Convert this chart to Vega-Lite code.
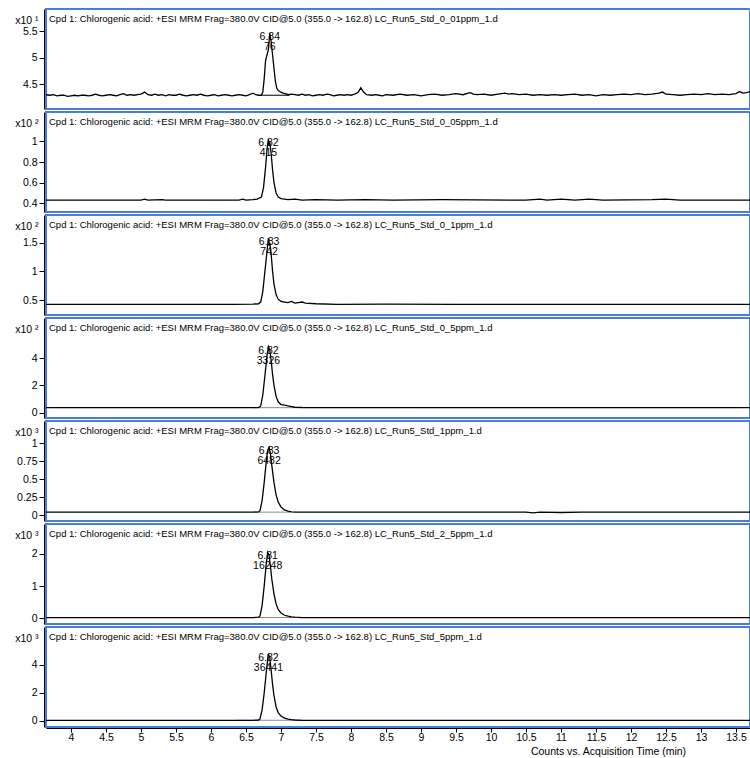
{
"$schema": "https://vega.github.io/schema/vega-lite/v6.json",
"padding": {"left": 13, "top": 8, "right": 0, "bottom": 0},
"spacing": 3,
"bounds": "flush",
"datasets": {
"p1": [
{"t":3.64,"v":4.30},{"t":3.70,"v":4.29},{"t":3.75,"v":4.30},{"t":3.80,"v":4.28},{"t":3.85,"v":4.29},{"t":3.90,"v":4.29},{"t":3.95,"v":4.27},{"t":4.00,"v":4.28},{"t":4.05,"v":4.29},{"t":4.10,"v":4.28},{"t":4.15,"v":4.29},{"t":4.20,"v":4.29},{"t":4.25,"v":4.28},{"t":4.30,"v":4.29},{"t":4.35,"v":4.31},{"t":4.40,"v":4.29},{"t":4.45,"v":4.28},{"t":4.50,"v":4.29},{"t":4.55,"v":4.30},{"t":4.60,"v":4.29},{"t":4.65,"v":4.28},{"t":4.70,"v":4.30},{"t":4.75,"v":4.32},{"t":4.80,"v":4.29},{"t":4.85,"v":4.30},{"t":4.90,"v":4.29},{"t":4.95,"v":4.30},{"t":5.00,"v":4.31},{"t":5.05,"v":4.35},{"t":5.10,"v":4.30},{"t":5.15,"v":4.29},{"t":5.20,"v":4.31},{"t":5.25,"v":4.29},{"t":5.30,"v":4.30},{"t":5.35,"v":4.28},{"t":5.40,"v":4.30},{"t":5.45,"v":4.29},{"t":5.50,"v":4.29},{"t":5.55,"v":4.31},{"t":5.60,"v":4.29},{"t":5.65,"v":4.28},{"t":5.70,"v":4.29},{"t":5.75,"v":4.30},{"t":5.80,"v":4.29},{"t":5.85,"v":4.31},{"t":5.90,"v":4.29},{"t":5.95,"v":4.28},{"t":6.00,"v":4.29},{"t":6.05,"v":4.30},{"t":6.10,"v":4.28},{"t":6.15,"v":4.29},{"t":6.20,"v":4.30},{"t":6.25,"v":4.29},{"t":6.30,"v":4.28},{"t":6.35,"v":4.29},{"t":6.40,"v":4.30},{"t":6.45,"v":4.29},{"t":6.50,"v":4.28},{"t":6.55,"v":4.30},{"t":6.60,"v":4.33},{"t":6.64,"v":4.30},{"t":6.68,"v":4.29},{"t":6.72,"v":4.29},{"t":6.74,"v":4.35},{"t":6.76,"v":4.60},{"t":6.78,"v":4.95},{"t":6.80,"v":5.05},{"t":6.82,"v":5.15},{"t":6.84,"v":5.46},{"t":6.86,"v":5.30},{"t":6.88,"v":5.05},{"t":6.90,"v":4.80},{"t":6.92,"v":4.55},{"t":6.94,"v":4.42},{"t":6.96,"v":4.38},{"t":6.98,"v":4.36},{"t":7.00,"v":4.35},{"t":7.03,"v":4.33},{"t":7.06,"v":4.32},{"t":7.10,"v":4.30},{"t":7.15,"v":4.31},{"t":7.20,"v":4.30},{"t":7.25,"v":4.29},{"t":7.30,"v":4.31},{"t":7.35,"v":4.29},{"t":7.40,"v":4.30},{"t":7.45,"v":4.28},{"t":7.50,"v":4.29},{"t":7.55,"v":4.30},{"t":7.60,"v":4.29},{"t":7.65,"v":4.31},{"t":7.70,"v":4.30},{"t":7.75,"v":4.28},{"t":7.80,"v":4.29},{"t":7.85,"v":4.30},{"t":7.90,"v":4.29},{"t":7.95,"v":4.30},{"t":8.00,"v":4.29},{"t":8.05,"v":4.31},{"t":8.10,"v":4.34},{"t":8.14,"v":4.43},{"t":8.18,"v":4.35},{"t":8.22,"v":4.30},{"t":8.30,"v":4.29},{"t":8.35,"v":4.30},{"t":8.40,"v":4.29},{"t":8.45,"v":4.28},{"t":8.50,"v":4.30},{"t":8.60,"v":4.29},{"t":8.70,"v":4.31},{"t":8.80,"v":4.29},{"t":8.90,"v":4.30},{"t":9.00,"v":4.28},{"t":9.10,"v":4.30},{"t":9.20,"v":4.31},{"t":9.30,"v":4.29},{"t":9.40,"v":4.30},{"t":9.50,"v":4.32},{"t":9.60,"v":4.30},{"t":9.70,"v":4.34},{"t":9.75,"v":4.31},{"t":9.80,"v":4.30},{"t":9.90,"v":4.31},{"t":10.00,"v":4.29},{"t":10.10,"v":4.31},{"t":10.20,"v":4.33},{"t":10.25,"v":4.31},{"t":10.30,"v":4.32},{"t":10.40,"v":4.30},{"t":10.50,"v":4.31},{"t":10.60,"v":4.29},{"t":10.70,"v":4.30},{"t":10.80,"v":4.29},{"t":10.90,"v":4.30},{"t":11.00,"v":4.29},{"t":11.10,"v":4.30},{"t":11.20,"v":4.31},{"t":11.30,"v":4.29},{"t":11.40,"v":4.30},{"t":11.50,"v":4.28},{"t":11.60,"v":4.30},{"t":11.70,"v":4.29},{"t":11.80,"v":4.30},{"t":11.90,"v":4.31},{"t":12.00,"v":4.30},{"t":12.10,"v":4.32},{"t":12.20,"v":4.30},{"t":12.30,"v":4.31},{"t":12.40,"v":4.33},{"t":12.45,"v":4.35},{"t":12.50,"v":4.31},{"t":12.60,"v":4.30},{"t":12.70,"v":4.29},{"t":12.80,"v":4.30},{"t":12.90,"v":4.31},{"t":13.00,"v":4.30},{"t":13.10,"v":4.32},{"t":13.20,"v":4.30},{"t":13.30,"v":4.31},{"t":13.40,"v":4.30},{"t":13.50,"v":4.32},{"t":13.55,"v":4.36},{"t":13.60,"v":4.33},{"t":13.65,"v":4.34},{"t":13.70,"v":4.36}
],
"p2": [
{"t":3.64,"v":0.43},{"t":5.0,"v":0.43},{"t":5.05,"v":0.44},{"t":5.1,"v":0.43},{"t":5.3,"v":0.435},{"t":5.35,"v":0.43},{"t":6.4,"v":0.43},{"t":6.45,"v":0.44},{"t":6.5,"v":0.43},{"t":6.6,"v":0.435},{"t":6.66,"v":0.44},{"t":6.72,"v":0.46},{"t":6.75,"v":0.55},{"t":6.78,"v":0.75},{"t":6.80,"v":0.92},{"t":6.82,"v":1.02},{"t":6.83,"v":0.96},{"t":6.84,"v":0.99},{"t":6.86,"v":0.88},{"t":6.88,"v":0.72},{"t":6.90,"v":0.60},{"t":6.93,"v":0.50},{"t":6.96,"v":0.46},{"t":7.0,"v":0.445},{"t":7.05,"v":0.44},{"t":7.1,"v":0.435},{"t":7.2,"v":0.44},{"t":7.3,"v":0.43},{"t":7.5,"v":0.435},{"t":7.8,"v":0.43},{"t":8.2,"v":0.435},{"t":8.6,"v":0.43},{"t":9.3,"v":0.435},{"t":10.5,"v":0.43},{"t":10.7,"v":0.44},{"t":10.8,"v":0.43},{"t":11.0,"v":0.44},{"t":11.2,"v":0.43},{"t":11.4,"v":0.44},{"t":11.6,"v":0.43},{"t":12.3,"v":0.435},{"t":12.5,"v":0.44},{"t":12.7,"v":0.43},{"t":13.7,"v":0.43}
],
"p3": [
{"t":3.64,"v":0.43},{"t":6.3,"v":0.43},{"t":6.6,"v":0.435},{"t":6.68,"v":0.44},{"t":6.71,"v":0.47},{"t":6.74,"v":0.65},{"t":6.77,"v":1.0},{"t":6.80,"v":1.35},{"t":6.82,"v":1.58},{"t":6.83,"v":1.45},{"t":6.84,"v":1.5},{"t":6.86,"v":1.3},{"t":6.88,"v":1.0},{"t":6.90,"v":0.78},{"t":6.93,"v":0.6},{"t":6.96,"v":0.52},{"t":7.0,"v":0.48},{"t":7.05,"v":0.47},{"t":7.1,"v":0.46},{"t":7.15,"v":0.48},{"t":7.2,"v":0.45},{"t":7.3,"v":0.47},{"t":7.35,"v":0.45},{"t":7.5,"v":0.44},{"t":7.8,"v":0.43},{"t":8.5,"v":0.435},{"t":9.5,"v":0.43},{"t":13.7,"v":0.43}
],
"p4": [
{"t":3.64,"v":0.37},{"t":6.6,"v":0.37},{"t":6.68,"v":0.38},{"t":6.71,"v":0.5},{"t":6.74,"v":1.3},{"t":6.77,"v":2.7},{"t":6.80,"v":4.2},{"t":6.82,"v":4.85},{"t":6.84,"v":4.6},{"t":6.86,"v":3.8},{"t":6.88,"v":2.8},{"t":6.90,"v":2.0},{"t":6.93,"v":1.2},{"t":6.96,"v":0.8},{"t":7.0,"v":0.6},{"t":7.05,"v":0.55},{"t":7.1,"v":0.5},{"t":7.15,"v":0.45},{"t":7.2,"v":0.4},{"t":7.3,"v":0.38},{"t":13.7,"v":0.37}
],
"p5": [
{"t":3.64,"v":0.04},{"t":6.6,"v":0.04},{"t":6.68,"v":0.045},{"t":6.70,"v":0.06},{"t":6.73,"v":0.2},{"t":6.76,"v":0.45},{"t":6.79,"v":0.75},{"t":6.81,"v":0.9},{"t":6.83,"v":0.94},{"t":6.85,"v":0.85},{"t":6.87,"v":0.68},{"t":6.90,"v":0.45},{"t":6.93,"v":0.28},{"t":6.96,"v":0.18},{"t":7.0,"v":0.11},{"t":7.05,"v":0.07},{"t":7.1,"v":0.055},{"t":7.15,"v":0.045},{"t":7.2,"v":0.04},{"t":10.5,"v":0.04},{"t":10.6,"v":0.03},{"t":10.7,"v":0.04},{"t":11.0,"v":0.035},{"t":11.3,"v":0.04},{"t":13.7,"v":0.04}
],
"p6": [
{"t":3.64,"v":0.03},{"t":6.6,"v":0.03},{"t":6.68,"v":0.04},{"t":6.70,"v":0.08},{"t":6.73,"v":0.4},{"t":6.76,"v":1.0},{"t":6.79,"v":1.7},{"t":6.81,"v":2.04},{"t":6.83,"v":1.95},{"t":6.85,"v":1.6},{"t":6.87,"v":1.2},{"t":6.90,"v":0.75},{"t":6.93,"v":0.45},{"t":6.96,"v":0.28},{"t":7.0,"v":0.17},{"t":7.05,"v":0.1},{"t":7.1,"v":0.07},{"t":7.15,"v":0.05},{"t":7.2,"v":0.04},{"t":7.3,"v":0.03},{"t":13.7,"v":0.03}
],
"p7": [
{"t":3.64,"v":0.05},{"t":6.6,"v":0.05},{"t":6.68,"v":0.07},{"t":6.70,"v":0.15},{"t":6.73,"v":0.8},{"t":6.76,"v":2.0},{"t":6.79,"v":3.5},{"t":6.81,"v":4.4},{"t":6.82,"v":4.79},{"t":6.84,"v":4.5},{"t":6.86,"v":3.6},{"t":6.88,"v":2.6},{"t":6.90,"v":1.8},{"t":6.93,"v":1.0},{"t":6.96,"v":0.6},{"t":7.0,"v":0.35},{"t":7.05,"v":0.2},{"t":7.1,"v":0.13},{"t":7.15,"v":0.09},{"t":7.2,"v":0.07},{"t":7.3,"v":0.05},{"t":13.7,"v":0.05}
],
"pk": [
{"p":1,"t":6.84,"v":5.46,"rt":"6.84","ar":"76","b0":6.73,"b1":7.12,"base":4.29},
{"p":2,"t":6.82,"v":1.02,"rt":"6.82","ar":"415","b0":6.66,"b1":7.1,"base":0.43},
{"p":3,"t":6.83,"v":1.58,"rt":"6.83","ar":"742","b0":6.68,"b1":7.2,"base":0.43},
{"p":4,"t":6.82,"v":4.85,"rt":"6.82","ar":"3326","b0":6.57,"b1":7.24,"base":0.37},
{"p":5,"t":6.83,"v":0.94,"rt":"6.83","ar":"6482","b0":6.61,"b1":7.14,"base":0.04},
{"p":6,"t":6.81,"v":2.04,"rt":"6.81","ar":"16248","b0":6.6,"b1":7.2,"base":0.03},
{"p":7,"t":6.82,"v":4.79,"rt":"6.82","ar":"36441","b0":6.36,"b1":7.31,"base":0.05}
]
},
"vconcat": [
{"width":704,"height":100,"title":"Cpd 1: Chlorogenic acid: +ESI MRM Frag=380.0V CID@5.0 (355.0 -> 162.8) LC_Run5_Std_0_01ppm_1.d",
 "layer":[
  {"data":{"name":"pk"},"transform":[{"filter":"datum.p==1"}],"mark":{"type":"rule","color":"black","strokeWidth":1},"encoding":{"x":{"field":"b0","type":"quantitative","scale":{"domain":[3.643,13.7],"nice":false,"zero":false},"axis":null},"x2":{"field":"b1"},"y":{"field":"base","type":"quantitative","scale":{"domain":[4.03,5.92],"nice":false,"zero":false},"axis":{"title":"x10 ¹","values":[4.5,5,5.5],"format":"~g"}}}},
  {"data":{"name":"pk"},"transform":[{"filter":"datum.p==1"}],"mark":{"type":"text","dy":4},"encoding":{"x":{"field":"t","type":"quantitative","scale":{"domain":[3.643,13.7],"nice":false,"zero":false},"axis":null},"y":{"field":"v","type":"quantitative","scale":{"domain":[4.03,5.92],"nice":false,"zero":false},"axis":{"title":"x10 ¹","values":[4.5,5,5.5],"format":"~g"}},"text":{"field":"rt"}}},
  {"data":{"name":"pk"},"transform":[{"filter":"datum.p==1"}],"mark":{"type":"text","dy":14},"encoding":{"x":{"field":"t","type":"quantitative","scale":{"domain":[3.643,13.7],"nice":false,"zero":false},"axis":null},"y":{"field":"v","type":"quantitative","scale":{"domain":[4.03,5.92],"nice":false,"zero":false},"axis":{"title":"x10 ¹","values":[4.5,5,5.5],"format":"~g"}},"text":{"field":"ar"}}},
  {"data":{"name":"p1"},"mark":{"type":"line","color":"black","strokeWidth":1.3,"clip":true},"encoding":{"x":{"field":"t","type":"quantitative","scale":{"domain":[3.643,13.7],"nice":false,"zero":false},"axis":null},"y":{"field":"v","type":"quantitative","scale":{"domain":[4.03,5.92],"nice":false,"zero":false},"axis":{"title":"x10 ¹","values":[4.5,5,5.5],"format":"~g"}}}}
 ]},
{"width":704,"height":100,"title":"Cpd 1: Chlorogenic acid: +ESI MRM Frag=380.0V CID@5.0 (355.0 -> 162.8) LC_Run5_Std_0_05ppm_1.d",
 "layer":[
  {"data":{"name":"pk"},"transform":[{"filter":"datum.p==2"}],"mark":{"type":"text","dy":4},"encoding":{"x":{"field":"t","type":"quantitative","scale":{"domain":[3.643,13.7],"nice":false,"zero":false},"axis":null},"y":{"field":"v","type":"quantitative","scale":{"domain":[0.315,1.285],"nice":false,"zero":false},"axis":{"title":"x10 ²","values":[0.4,0.6,0.8,1],"format":"~g"}},"text":{"field":"rt"}}},
  {"data":{"name":"pk"},"transform":[{"filter":"datum.p==2"}],"mark":{"type":"text","dy":14},"encoding":{"x":{"field":"t","type":"quantitative","scale":{"domain":[3.643,13.7],"nice":false,"zero":false},"axis":null},"y":{"field":"v","type":"quantitative","scale":{"domain":[0.315,1.285],"nice":false,"zero":false},"axis":{"title":"x10 ²","values":[0.4,0.6,0.8,1],"format":"~g"}},"text":{"field":"ar"}}},
  {"data":{"name":"p2"},"mark":{"type":"line","color":"black","strokeWidth":1.3,"clip":true},"encoding":{"x":{"field":"t","type":"quantitative","scale":{"domain":[3.643,13.7],"nice":false,"zero":false},"axis":null},"y":{"field":"v","type":"quantitative","scale":{"domain":[0.315,1.285],"nice":false,"zero":false},"axis":{"title":"x10 ²","values":[0.4,0.6,0.8,1],"format":"~g"}}}}
 ]},
{"width":704,"height":100,"title":"Cpd 1: Chlorogenic acid: +ESI MRM Frag=380.0V CID@5.0 (355.0 -> 162.8) LC_Run5_Std_0_1ppm_1.d",
 "layer":[
  {"data":{"name":"pk"},"transform":[{"filter":"datum.p==3"}],"mark":{"type":"text","dy":4},"encoding":{"x":{"field":"t","type":"quantitative","scale":{"domain":[3.643,13.7],"nice":false,"zero":false},"axis":null},"y":{"field":"v","type":"quantitative","scale":{"domain":[0.245,1.98],"nice":false,"zero":false},"axis":{"title":"x10 ²","values":[0.5,1,1.5],"format":"~g"}},"text":{"field":"rt"}}},
  {"data":{"name":"pk"},"transform":[{"filter":"datum.p==3"}],"mark":{"type":"text","dy":14},"encoding":{"x":{"field":"t","type":"quantitative","scale":{"domain":[3.643,13.7],"nice":false,"zero":false},"axis":null},"y":{"field":"v","type":"quantitative","scale":{"domain":[0.245,1.98],"nice":false,"zero":false},"axis":{"title":"x10 ²","values":[0.5,1,1.5],"format":"~g"}},"text":{"field":"ar"}}},
  {"data":{"name":"p3"},"mark":{"type":"line","color":"black","strokeWidth":1.3,"clip":true},"encoding":{"x":{"field":"t","type":"quantitative","scale":{"domain":[3.643,13.7],"nice":false,"zero":false},"axis":null},"y":{"field":"v","type":"quantitative","scale":{"domain":[0.245,1.98],"nice":false,"zero":false},"axis":{"title":"x10 ²","values":[0.5,1,1.5],"format":"~g"}}}}
 ]},
{"width":704,"height":100,"title":"Cpd 1: Chlorogenic acid: +ESI MRM Frag=380.0V CID@5.0 (355.0 -> 162.8) LC_Run5_Std_0_5ppm_1.d",
 "layer":[
  {"data":{"name":"pk"},"transform":[{"filter":"datum.p==4"}],"mark":{"type":"rule","color":"#8a8a8a","strokeWidth":1},"encoding":{"x":{"field":"b0","type":"quantitative","scale":{"domain":[3.643,13.7],"nice":false,"zero":false},"axis":null},"x2":{"field":"b1"},"y":{"field":"base","type":"quantitative","scale":{"domain":[-0.39,6.96],"nice":false,"zero":false},"axis":{"title":"x10 ²","values":[0,2,4],"format":"~g"}}}},
  {"data":{"name":"pk"},"transform":[{"filter":"datum.p==4"}],"mark":{"type":"text","dy":4},"encoding":{"x":{"field":"t","type":"quantitative","scale":{"domain":[3.643,13.7],"nice":false,"zero":false},"axis":null},"y":{"field":"v","type":"quantitative","scale":{"domain":[-0.39,6.96],"nice":false,"zero":false},"axis":{"title":"x10 ²","values":[0,2,4],"format":"~g"}},"text":{"field":"rt"}}},
  {"data":{"name":"pk"},"transform":[{"filter":"datum.p==4"}],"mark":{"type":"text","dy":14},"encoding":{"x":{"field":"t","type":"quantitative","scale":{"domain":[3.643,13.7],"nice":false,"zero":false},"axis":null},"y":{"field":"v","type":"quantitative","scale":{"domain":[-0.39,6.96],"nice":false,"zero":false},"axis":{"title":"x10 ²","values":[0,2,4],"format":"~g"}},"text":{"field":"ar"}}},
  {"data":{"name":"p4"},"mark":{"type":"line","color":"black","strokeWidth":1.3,"clip":true},"encoding":{"x":{"field":"t","type":"quantitative","scale":{"domain":[3.643,13.7],"nice":false,"zero":false},"axis":null},"y":{"field":"v","type":"quantitative","scale":{"domain":[-0.39,6.96],"nice":false,"zero":false},"axis":{"title":"x10 ²","values":[0,2,4],"format":"~g"}}}}
 ]},
{"width":704,"height":100,"title":"Cpd 1: Chlorogenic acid: +ESI MRM Frag=380.0V CID@5.0 (355.0 -> 162.8) LC_Run5_Std_1ppm_1.d",
 "layer":[
  {"data":{"name":"pk"},"transform":[{"filter":"datum.p==5"}],"mark":{"type":"rule","color":"#8a8a8a","strokeWidth":1},"encoding":{"x":{"field":"b0","type":"quantitative","scale":{"domain":[3.643,13.7],"nice":false,"zero":false},"axis":null},"x2":{"field":"b1"},"y":{"field":"base","type":"quantitative","scale":{"domain":[-0.083,1.306],"nice":false,"zero":false},"axis":{"title":"x10 ³","values":[0,0.25,0.5,0.75,1],"format":"~g"}}}},
  {"data":{"name":"pk"},"transform":[{"filter":"datum.p==5"}],"mark":{"type":"text","dy":4},"encoding":{"x":{"field":"t","type":"quantitative","scale":{"domain":[3.643,13.7],"nice":false,"zero":false},"axis":null},"y":{"field":"v","type":"quantitative","scale":{"domain":[-0.083,1.306],"nice":false,"zero":false},"axis":{"title":"x10 ³","values":[0,0.25,0.5,0.75,1],"format":"~g"}},"text":{"field":"rt"}}},
  {"data":{"name":"pk"},"transform":[{"filter":"datum.p==5"}],"mark":{"type":"text","dy":14},"encoding":{"x":{"field":"t","type":"quantitative","scale":{"domain":[3.643,13.7],"nice":false,"zero":false},"axis":null},"y":{"field":"v","type":"quantitative","scale":{"domain":[-0.083,1.306],"nice":false,"zero":false},"axis":{"title":"x10 ³","values":[0,0.25,0.5,0.75,1],"format":"~g"}},"text":{"field":"ar"}}},
  {"data":{"name":"p5"},"mark":{"type":"line","color":"black","strokeWidth":1.3,"clip":true},"encoding":{"x":{"field":"t","type":"quantitative","scale":{"domain":[3.643,13.7],"nice":false,"zero":false},"axis":null},"y":{"field":"v","type":"quantitative","scale":{"domain":[-0.083,1.306],"nice":false,"zero":false},"axis":{"title":"x10 ³","values":[0,0.25,0.5,0.75,1],"format":"~g"}}}}
 ]},
{"width":704,"height":100,"title":"Cpd 1: Chlorogenic acid: +ESI MRM Frag=380.0V CID@5.0 (355.0 -> 162.8) LC_Run5_Std_2_5ppm_1.d",
 "layer":[
  {"data":{"name":"pk"},"transform":[{"filter":"datum.p==6"}],"mark":{"type":"rule","color":"#8a8a8a","strokeWidth":1},"encoding":{"x":{"field":"b0","type":"quantitative","scale":{"domain":[3.643,13.7],"nice":false,"zero":false},"axis":null},"x2":{"field":"b1"},"y":{"field":"base","type":"quantitative","scale":{"domain":[-0.17,2.92],"nice":false,"zero":false},"axis":{"title":"x10 ³","values":[0,1,2],"format":"~g"}}}},
  {"data":{"name":"pk"},"transform":[{"filter":"datum.p==6"}],"mark":{"type":"text","dy":4},"encoding":{"x":{"field":"t","type":"quantitative","scale":{"domain":[3.643,13.7],"nice":false,"zero":false},"axis":null},"y":{"field":"v","type":"quantitative","scale":{"domain":[-0.17,2.92],"nice":false,"zero":false},"axis":{"title":"x10 ³","values":[0,1,2],"format":"~g"}},"text":{"field":"rt"}}},
  {"data":{"name":"pk"},"transform":[{"filter":"datum.p==6"}],"mark":{"type":"text","dy":14},"encoding":{"x":{"field":"t","type":"quantitative","scale":{"domain":[3.643,13.7],"nice":false,"zero":false},"axis":null},"y":{"field":"v","type":"quantitative","scale":{"domain":[-0.17,2.92],"nice":false,"zero":false},"axis":{"title":"x10 ³","values":[0,1,2],"format":"~g"}},"text":{"field":"ar"}}},
  {"data":{"name":"p6"},"mark":{"type":"line","color":"black","strokeWidth":1.3,"clip":true},"encoding":{"x":{"field":"t","type":"quantitative","scale":{"domain":[3.643,13.7],"nice":false,"zero":false},"axis":null},"y":{"field":"v","type":"quantitative","scale":{"domain":[-0.17,2.92],"nice":false,"zero":false},"axis":{"title":"x10 ³","values":[0,1,2],"format":"~g"}}}}
 ]},
{"width":704,"height":100,"title":"Cpd 1: Chlorogenic acid: +ESI MRM Frag=380.0V CID@5.0 (355.0 -> 162.8) LC_Run5_Std_5ppm_1.d",
 "layer":[
  {"data":{"name":"pk"},"transform":[{"filter":"datum.p==7"}],"mark":{"type":"rule","color":"#8a8a8a","strokeWidth":1},"encoding":{"x":{"field":"b0","type":"quantitative","scale":{"domain":[3.643,13.7],"nice":false,"zero":false},"axis":{"title":"Counts vs. Acquisition Time (min)","values":[4,4.5,5,5.5,6,6.5,7,7.5,8,8.5,9,9.5,10,10.5,11,11.5,12,12.5,13,13.5],"format":"~g","offset":1,"tickSize":4,"labelPadding":0,"labelFlush":false,"labelOverlap":false,"titleX":562,"titleY":23,"titleAlign":"center","titleBaseline":"middle"}},"x2":{"field":"b1"},"y":{"field":"base","type":"quantitative","scale":{"domain":[-0.43,6.71],"nice":false,"zero":false},"axis":{"title":"x10 ³","values":[0,2,4],"format":"~g"}}}},
  {"data":{"name":"pk"},"transform":[{"filter":"datum.p==7"}],"mark":{"type":"text","dy":4},"encoding":{"x":{"field":"t","type":"quantitative","scale":{"domain":[3.643,13.7],"nice":false,"zero":false},"axis":{"title":"Counts vs. Acquisition Time (min)","values":[4,4.5,5,5.5,6,6.5,7,7.5,8,8.5,9,9.5,10,10.5,11,11.5,12,12.5,13,13.5],"format":"~g","offset":1,"tickSize":4,"labelPadding":0,"labelFlush":false,"labelOverlap":false,"titleX":562,"titleY":23,"titleAlign":"center","titleBaseline":"middle"}},"y":{"field":"v","type":"quantitative","scale":{"domain":[-0.43,6.71],"nice":false,"zero":false},"axis":{"title":"x10 ³","values":[0,2,4],"format":"~g"}},"text":{"field":"rt"}}},
  {"data":{"name":"pk"},"transform":[{"filter":"datum.p==7"}],"mark":{"type":"text","dy":14},"encoding":{"x":{"field":"t","type":"quantitative","scale":{"domain":[3.643,13.7],"nice":false,"zero":false},"axis":{"title":"Counts vs. Acquisition Time (min)","values":[4,4.5,5,5.5,6,6.5,7,7.5,8,8.5,9,9.5,10,10.5,11,11.5,12,12.5,13,13.5],"format":"~g","offset":1,"tickSize":4,"labelPadding":0,"labelFlush":false,"labelOverlap":false,"titleX":562,"titleY":23,"titleAlign":"center","titleBaseline":"middle"}},"y":{"field":"v","type":"quantitative","scale":{"domain":[-0.43,6.71],"nice":false,"zero":false},"axis":{"title":"x10 ³","values":[0,2,4],"format":"~g"}},"text":{"field":"ar"}}},
  {"data":{"name":"p7"},"mark":{"type":"line","color":"black","strokeWidth":1.3,"clip":true},"encoding":{"x":{"field":"t","type":"quantitative","scale":{"domain":[3.643,13.7],"nice":false,"zero":false},"axis":{"title":"Counts vs. Acquisition Time (min)","values":[4,4.5,5,5.5,6,6.5,7,7.5,8,8.5,9,9.5,10,10.5,11,11.5,12,12.5,13,13.5],"format":"~g","offset":1,"tickSize":4,"labelPadding":0,"labelFlush":false,"labelOverlap":false,"titleX":562,"titleY":23,"titleAlign":"center","titleBaseline":"middle"}},"y":{"field":"v","type":"quantitative","scale":{"domain":[-0.43,6.71],"nice":false,"zero":false},"axis":{"title":"x10 ³","values":[0,2,4],"format":"~g"}}}}
 ]}
],
"config": {
 "background": "white",
 "font": "Liberation Sans",
 "view": {"stroke": "#4a7ed6", "strokeWidth": 2},
 "axis": {"grid": false, "domainColor": "black", "tickColor": "black", "labelColor": "black", "titleColor": "black", "labelFont": "Liberation Sans Narrow, Liberation Sans, sans-serif", "labelFontSize": 10.5, "titleFont": "Liberation Sans Narrow, Liberation Sans, sans-serif", "titleFontSize": 10.5, "titleFontWeight": "normal", "tickSize": 5, "labelPadding": 2, "domainWidth": 1, "tickWidth": 1},
 "axisY": {"offset": 2, "titleAngle": 0, "titleAlign": "right", "titleBaseline": "middle", "titleX": -6, "titleY": 11, "labelOverlap": false},
 "title": {"anchor": "start", "frame": "group", "fontSize": 9.5, "fontWeight": "normal", "color": "black", "font": "Liberation Sans", "offset": -14, "baseline": "alphabetic", "dx": 3},
 "text": {"font": "Liberation Sans Narrow, Liberation Sans, sans-serif", "fontSize": 10.5, "color": "black", "baseline": "middle", "align": "center"}
}
}
